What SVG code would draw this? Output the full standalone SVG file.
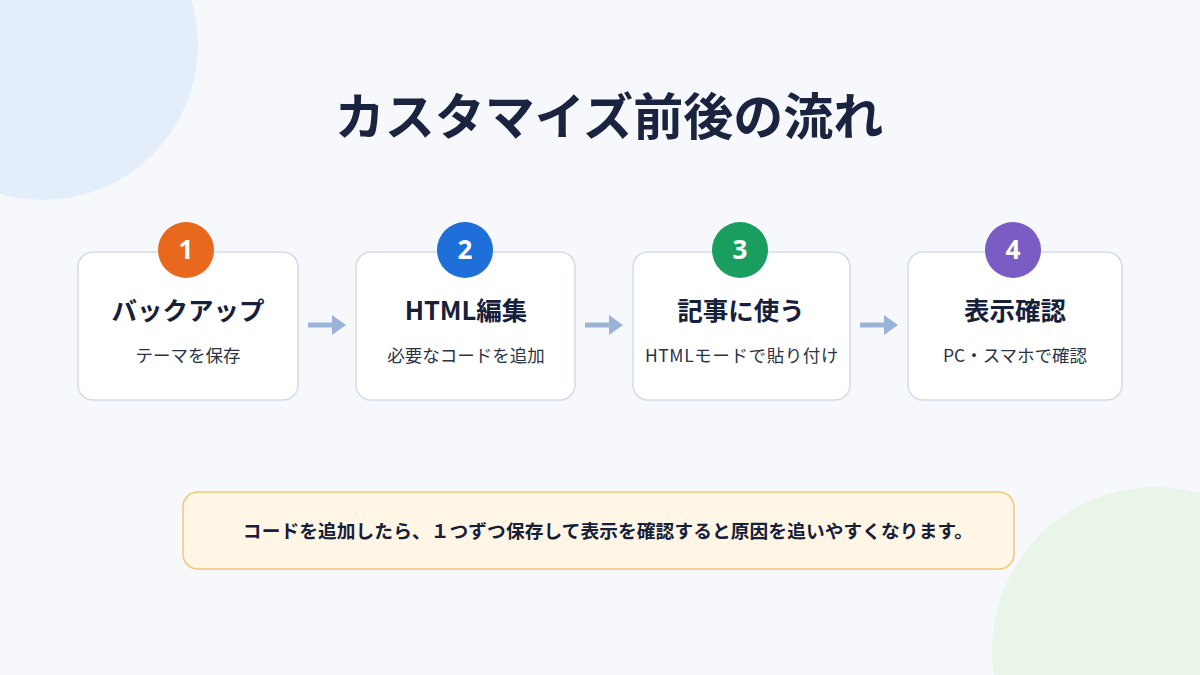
<svg xmlns="http://www.w3.org/2000/svg" width="1200" height="675" viewBox="0 0 1200 675">
<defs>
<style>
.card{fill:#ffffff;stroke:#d3dce8;stroke-width:1.5}
.title{font-family:"Noto Sans CJK JP","Noto Sans",sans-serif;font-weight:700;font-size:25.5px;fill:#16203a;text-anchor:middle}
.sub{font-family:"Noto Sans CJK JP","Noto Sans",sans-serif;font-weight:400;font-size:17.5px;fill:#2a3346;text-anchor:middle}
.num{font-family:"Noto Sans","Noto Sans CJK JP",sans-serif;font-weight:700;font-size:26px;fill:#ffffff;text-anchor:middle}
.arrow{stroke:#9bb3d9;stroke-width:5;fill:none}
.head{fill:#9bb3d9}
</style>
</defs>
<rect width="1200" height="675" fill="#f6f8fc"/>
<circle cx="43" cy="45" r="155" fill="#e4eefb"/>
<circle cx="1155" cy="650" r="163" fill="#e9f5e8"/>
<text x="609" y="135" font-family="Noto Sans CJK JP, Noto Sans, sans-serif" font-weight="700" font-size="50" fill="#1a2440" text-anchor="middle">カスタマイズ前後の流れ</text>

<g id="connectors">
<line class="arrow" x1="308" y1="325" x2="334" y2="325"/><polygon class="head" points="332,315 346,325 332,335"/>
<line class="arrow" x1="585" y1="325" x2="611" y2="325"/><polygon class="head" points="609,315 623,325 609,335"/>
<line class="arrow" x1="860" y1="325" x2="886" y2="325"/><polygon class="head" points="884,315 898,325 884,335"/>
</g>

<g id="step1">
<rect class="card" x="78" y="252" width="220" height="148" rx="15"/>
<circle cx="186" cy="250" r="28" fill="#e8691e"/>
<text class="num" x="186" y="259">1</text>
<text class="title" x="188" y="320">バックアップ</text>
<text class="sub" x="188" y="362">テーマを保存</text>
</g>
<g id="step2">
<rect class="card" x="356" y="252" width="219" height="148" rx="15"/>
<circle cx="465" cy="250" r="28" fill="#1e6fd9"/>
<text class="num" x="465" y="259">2</text>
<text class="title" x="466" y="320">HTML編集</text>
<text class="sub" x="466" y="362">必要なコードを追加</text>
</g>
<g id="step3">
<rect class="card" x="633" y="252" width="217" height="148" rx="15"/>
<circle cx="740" cy="250" r="28" fill="#1a9e5f"/>
<text class="num" x="740" y="259">3</text>
<text class="title" x="741" y="320">記事に使う</text>
<text class="sub" x="742" y="362" letter-spacing="0.6">HTMLモードで貼り付け</text>
</g>
<g id="step4">
<rect class="card" x="908" y="252" width="214" height="148" rx="15"/>
<circle cx="1013" cy="250" r="28" fill="#7a5cc5"/>
<text class="num" x="1013" y="259">4</text>
<text class="title" x="1015" y="320">表示確認</text>
<text class="sub" x="1015" y="362">PC・スマホで確認</text>
</g>

<g id="note">
<rect x="183" y="492" width="831" height="77" rx="15" fill="#fff6e5" stroke="#f0c879" stroke-width="1.5"/>
<text x="608" y="538" font-family="Noto Sans CJK JP, Noto Sans, sans-serif" font-weight="700" font-size="18.7" letter-spacing="0.1" fill="#16203a" text-anchor="middle">コードを追加したら、１つずつ保存して表示を確認すると原因を追いやすくなります。</text>
</g>
</svg>
